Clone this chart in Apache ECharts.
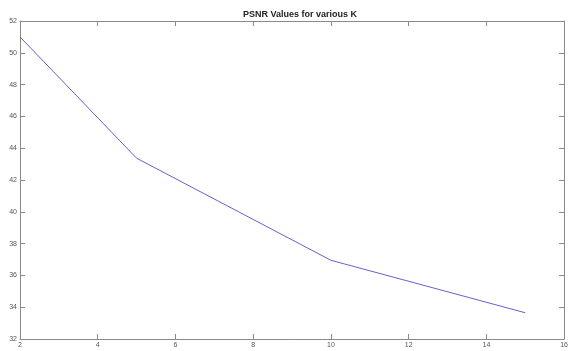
<!DOCTYPE html>
<html><head><meta charset="utf-8">
<script src="https://cdn.jsdelivr.net/npm/echarts@6/dist/echarts.min.js"></script>
<style>html,body{margin:0;padding:0;background:#fff}#c{width:571px;height:351px}</style>
</head><body><div id="c"></div>
<script>
const kValues = [2, 5, 10, 15];
const psnrValues = [51.0, 43.37, 36.95, 33.65];
const xTicks = [2, 4, 6, 8, 10, 12, 14, 16];
const yTicks = [32, 34, 36, 38, 40, 42, 44, 46, 48, 50, 52];
const titleText = 'PSNR Values for various K';

const axisCol = '#8a8a8a';
const labelCol = '#555';
const chart = echarts.init(document.getElementById('c'), null, {renderer: 'canvas'});
const baseAxis = {
  axisLine: {show: true, lineStyle: {color: axisCol, width: 1}},
  axisTick: {show: true, inside: true, length: 5, lineStyle: {color: axisCol}},
  splitLine: {show: false}
};
chart.setOption({
  animation: false,
  title: {text: titleText, left: 295, top: 5, textAlign: 'center',
    textStyle: {fontSize: 9, fontWeight: 'bold', color: '#222', fontFamily: 'Liberation Sans'}},
  grid: {left: 20, top: 21, right: 3, bottom: 12},
  xAxis: [
    Object.assign({type: 'value', min: 2, max: 16, interval: 2, position: 'bottom',
      axisLabel: {fontSize: 7, color: labelCol, margin: 3, fontFamily: 'Liberation Sans', showMaxLabel: true}}, baseAxis),
    Object.assign({type: 'value', min: 2, max: 16, interval: 2, position: 'top',
      axisLabel: {show: false}}, baseAxis)
  ],
  yAxis: [
    Object.assign({type: 'value', min: 32, max: 52, interval: 2, position: 'left',
      axisLabel: {fontSize: 7, color: labelCol, margin: 3, fontFamily: 'Liberation Sans'}}, baseAxis),
    Object.assign({type: 'value', min: 32, max: 52, interval: 2, position: 'right',
      axisLabel: {show: false}}, baseAxis)
  ],
  series: [{
    type: 'line', xAxisIndex: 0, yAxisIndex: 0,
    data: kValues.map((k, i) => [k, psnrValues[i]]),
    symbol: 'none', lineStyle: {color: '#6262cc', width: 1}
  }]
});
</script></body></html>
